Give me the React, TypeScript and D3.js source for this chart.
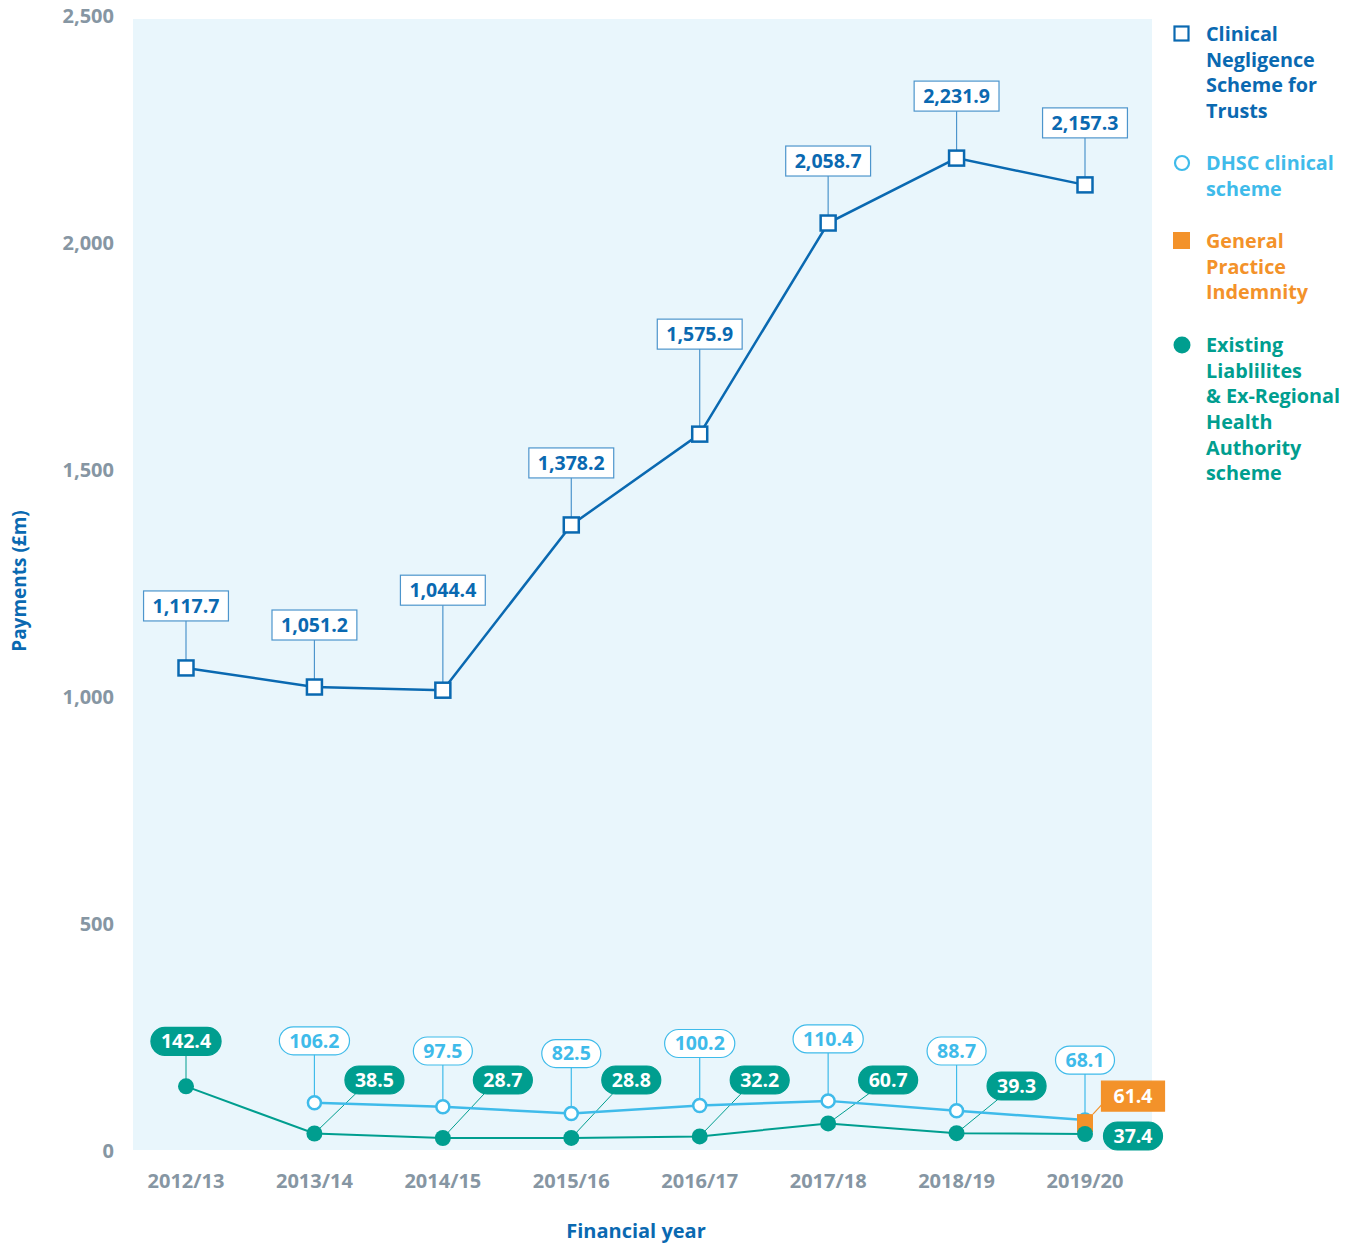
import * as d3 from "d3";
import { useEffect, useRef } from "react";

const years = ["2012/13", "2013/14", "2014/15", "2015/16", "2016/17", "2017/18", "2018/19", "2019/20"];

// Clinical Negligence Scheme for Trusts: labelled values, and where the source actually put the markers
const cnstValues = [1117.7, 1051.2, 1044.4, 1378.2, 1575.9, 2058.7, 2231.9, 2157.3];
const cnstPlotted = [1064, 1022, 1015, 1379, 1579, 2044, 2187, 2128];

const dhscValues: (number | null)[] = [null, 106.2, 97.5, 82.5, 100.2, 110.4, 88.7, 68.1];
const gpiValues: (number | null)[] = [null, null, null, null, null, null, null, 61.4];
const elsValues = [142.4, 38.5, 28.7, 28.8, 32.2, 60.7, 39.3, 37.4];

const yTicks = [0, 500, 1000, 1500, 2000, 2500];

const legendItems = [
	{ key: "cnst", lines: ["Clinical", "Negligence", "Scheme for", "Trusts"] },
	{ key: "dhsc", lines: ["DHSC clinical", "scheme"] },
	{ key: "gpi", lines: ["General", "Practice", "Indemnity"] },
	{ key: "els", lines: ["Existing", "Liablilites", "& Ex-Regional", "Health", "Authority", "scheme"] },
];

const DARK = "#0a69b1";
const LIGHT = "#3fbbea";
const ORANGE = "#f3922a";
const TEAL = "#009e8f";
const GREY = "#8696a3";
const BG = "#e9f6fc";
const FONT = "'Open Sans', sans-serif";

export default function App() {
	const ref = useRef<SVGSVGElement | null>(null);

	useEffect(() => {
		if (!ref.current) return;
		const svg = d3.select(ref.current);
		svg.selectAll("*").remove();

		const width = 1362;
		const height = 1245;
		const plot = { left: 133, right: 1152, top: 19, bottom: 1150 };

		const x = d3.scalePoint<string>().domain(years).range([186, 1085]);
		const y = d3.scaleLinear().domain([0, 2500]).range([1151, 16]);
		const fmt = d3.format(",.1f");

		svg.attr("width", width).attr("height", height).style("font-family", FONT);

		svg
			.append("rect")
			.attr("x", plot.left)
			.attr("y", plot.top)
			.attr("width", plot.right - plot.left)
			.attr("height", plot.bottom - plot.top)
			.attr("fill", BG);

		// y axis labels
		svg
			.append("g")
			.selectAll("text")
			.data(yTicks)
			.enter()
			.append("text")
			.attr("x", 114)
			.attr("y", (d) => y(d))
			.attr("dy", "0.35em")
			.attr("text-anchor", "end")
			.attr("fill", GREY)
			.style("font-size", "20px")
			.style("font-weight", 700)
			.text((d) => d3.format(",")(d));

		// x axis labels
		svg
			.append("g")
			.selectAll("text")
			.data(years)
			.enter()
			.append("text")
			.attr("x", (d) => x(d)!)
			.attr("y", 1181)
			.attr("dy", "0.35em")
			.attr("text-anchor", "middle")
			.attr("fill", GREY)
			.style("font-size", "20px")
			.style("font-weight", 700)
			.text((d) => d);

		svg
			.append("text")
			.attr("transform", `translate(19,581) rotate(-90)`)
			.attr("dy", "0.35em")
			.attr("text-anchor", "middle")
			.attr("fill", DARK)
			.style("font-size", "19px")
			.style("font-weight", 700)
			.text("Payments (£m)");

		svg
			.append("text")
			.attr("x", 636)
			.attr("y", 1231)
			.attr("dy", "0.35em")
			.attr("text-anchor", "middle")
			.attr("fill", DARK)
			.style("font-size", "20px")
			.style("font-weight", 700)
			.text("Financial year");

		type Pt = { year: string; v: number; i: number };
		const pts = (arr: (number | null)[]): Pt[] =>
			arr.map((v, i) => ({ year: years[i], v: v as number, i })).filter((d) => d.v != null);

		const line = d3
			.line<Pt>()
			.x((d) => x(d.year)!)
			.y((d) => y(d.v));

		const cnst = pts(cnstPlotted);
		const dhsc = pts(dhscValues);
		const gpi = pts(gpiValues);
		const els = pts(elsValues);

		// label helper: text with a box drawn behind it
		const label = (
			g: d3.Selection<SVGGElement, unknown, null, undefined>,
			cx: number,
			cy: number,
			txt: string,
			opts: { fill: string; stroke: string; color: string; rx: number; padX: number; h: number },
		) => {
			const grp = g.append("g");
			const rect = grp.append("rect");
			const t = grp
				.append("text")
				.attr("x", cx)
				.attr("y", cy)
				.attr("dy", "0.35em")
				.attr("text-anchor", "middle")
				.attr("fill", opts.color)
				.style("font-size", "19.5px")
				.style("font-weight", 700)
				.text(txt);
			const w = (t.node() as SVGTextElement).getComputedTextLength() + opts.padX * 2;
			rect
				.attr("x", cx - w / 2)
				.attr("y", cy - opts.h / 2)
				.attr("width", w)
				.attr("height", opts.h)
				.attr("rx", opts.rx)
				.attr("fill", opts.fill)
				.attr("stroke", opts.stroke)
				.attr("stroke-width", 1.2);
			return w;
		};

		const leaders = svg.append("g");
		const marks = svg.append("g");
		const labels = svg.append("g");

		// CNST
		const tall = new Set(["2014/15", "2016/17"]);
		marks
			.append("path")
			.datum(cnst)
			.attr("d", line)
			.attr("fill", "none")
			.attr("stroke", DARK)
			.attr("stroke-width", 2.5);
		cnst.forEach((d) => {
			const px = x(d.year)!;
			const py = y(d.v);
			const ly = py - (tall.has(d.year) ? 100 : 62);
			leaders
				.append("line")
				.attr("x1", px)
				.attr("x2", px)
				.attr("y1", py)
				.attr("y2", ly)
				.attr("stroke", "#4d95cc")
				.attr("stroke-width", 1.2);
			label(labels, px, ly, fmt(cnstValues[d.i]), {
				fill: "#fff",
				stroke: "#4d95cc",
				color: DARK,
				rx: 0,
				padX: 9,
				h: 30,
			});
		});
		marks
			.selectAll("rect.cnst")
			.data(cnst)
			.enter()
			.append("rect")
			.attr("class", "cnst")
			.attr("x", (d) => x(d.year)! - 7.5)
			.attr("y", (d) => y(d.v) - 7.5)
			.attr("width", 15)
			.attr("height", 15)
			.attr("fill", "#fff")
			.attr("stroke", DARK)
			.attr("stroke-width", 2.5);

		// DHSC
		const dhscLift = new Set(["2014/15", "2015/16", "2018/19", "2019/20"]);
		marks
			.append("path")
			.datum(dhsc)
			.attr("d", line)
			.attr("fill", "none")
			.attr("stroke", LIGHT)
			.attr("stroke-width", 2.5);
		dhsc.forEach((d) => {
			const px = x(d.year)!;
			const py = y(d.v);
			const ly = dhscLift.has(d.year) ? Math.max(py - 60, 1051) : py - 62;
			leaders
				.append("line")
				.attr("x1", px)
				.attr("x2", px)
				.attr("y1", py)
				.attr("y2", ly)
				.attr("stroke", LIGHT)
				.attr("stroke-width", 1.2);
			label(labels, px, ly, fmt(d.v), {
				fill: "#fff",
				stroke: LIGHT,
				color: LIGHT,
				rx: 14,
				padX: 10,
				h: 28,
			});
		});
		marks
			.selectAll("circle.dhsc")
			.data(dhsc)
			.enter()
			.append("circle")
			.attr("class", "dhsc")
			.attr("cx", (d) => x(d.year)!)
			.attr("cy", (d) => y(d.v))
			.attr("r", 6.5)
			.attr("fill", "#fff")
			.attr("stroke", LIGHT)
			.attr("stroke-width", 2.5);

		// GPI
		gpi.forEach((d) => {
			const px = x(d.year)!;
			const py = y(d.v);
			marks
				.append("rect")
				.attr("x", px - 8)
				.attr("y", py - 9)
				.attr("width", 16)
				.attr("height", 18)
				.attr("fill", ORANGE);
			leaders
				.append("line")
				.attr("x1", px + 8)
				.attr("y1", py - 9)
				.attr("x2", px + 20)
				.attr("y2", py - 22)
				.attr("stroke", ORANGE)
				.attr("stroke-width", 1.2);
			label(labels, px + 48, py - 27, fmt(d.v), {
				fill: ORANGE,
				stroke: ORANGE,
				color: "#fff",
				rx: 0,
				padX: 12,
				h: 30,
			});
		});

		// ELS
		marks
			.append("path")
			.datum(els)
			.attr("d", line)
			.attr("fill", "none")
			.attr("stroke", TEAL)
			.attr("stroke-width", 2);
		els.forEach((d, k) => {
			const px = x(d.year)!;
			const py = y(d.v);
			const opts = { fill: TEAL, stroke: TEAL, color: "#fff", rx: 14, padX: 10, h: 28 };
			if (k === 0) {
				leaders
					.append("line")
					.attr("x1", px)
					.attr("x2", px)
					.attr("y1", py)
					.attr("y2", py - 44)
					.attr("stroke", TEAL)
					.attr("stroke-width", 1);
				label(labels, px, py - 45, fmt(d.v), opts);
			} else if (k === els.length - 1) {
				label(labels, px + 48, py + 2, fmt(d.v), opts);
			} else {
				const ly = y(0) - (d.year === "2018/19" ? 65 : 71);
				const lx = px + 60;
				leaders
					.append("line")
					.attr("x1", px)
					.attr("y1", py)
					.attr("x2", lx - 17)
					.attr("y2", ly + 12)
					.attr("stroke", TEAL)
					.attr("stroke-width", 1);
				label(labels, lx, ly, fmt(d.v), opts);
			}
		});
		marks
			.selectAll("circle.els")
			.data(els)
			.enter()
			.append("circle")
			.attr("class", "els")
			.attr("cx", (d) => x(d.year)!)
			.attr("cy", (d) => y(d.v))
			.attr("r", 8)
			.attr("fill", TEAL);

		// legend
		const colors: Record<string, string> = { cnst: DARK, dhsc: LIGHT, gpi: ORANGE, els: TEAL };
		const legendTops = [34, 163, 241, 345];
		const lg = svg.append("g");
		legendItems.forEach((item, i) => {
			const cy = legendTops[i];
			const c = colors[item.key];
			if (item.key === "cnst") {
				lg.append("rect").attr("x", 1174.5).attr("y", cy - 7.5).attr("width", 14).attr("height", 14)
					.attr("fill", "none").attr("stroke", c).attr("stroke-width", 2.2);
			} else if (item.key === "dhsc") {
				lg.append("circle").attr("cx", 1182).attr("cy", cy).attr("r", 7)
					.attr("fill", "none").attr("stroke", c).attr("stroke-width", 2.2);
			} else if (item.key === "gpi") {
				lg.append("rect").attr("x", 1173).attr("y", cy - 9).attr("width", 17).attr("height", 17).attr("fill", c);
			} else {
				lg.append("circle").attr("cx", 1182).attr("cy", cy).attr("r", 8.5).attr("fill", c);
			}
			item.lines.forEach((ln, j) => {
				lg.append("text")
					.attr("x", 1206)
					.attr("y", cy + j * 25.7)
					.attr("dy", "0.35em")
					.attr("fill", c)
					.style("font-size", "19.8px")
					.style("font-weight", 700)
					.text(ln);
			});
		});
	}, []);

	return <svg ref={ref} style={{ position: "absolute", left: 0, top: 0, display: "block" }} />;
}
